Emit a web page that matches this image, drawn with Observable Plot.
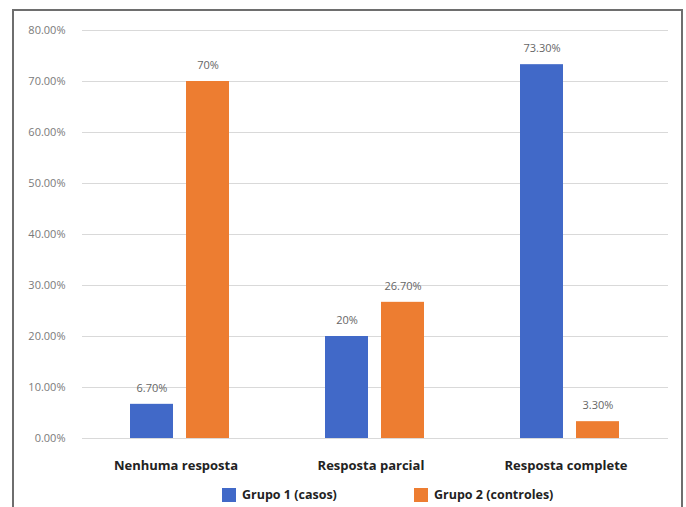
<!DOCTYPE html>
<html>
<head>
<meta charset="utf-8">
<script src="https://cdn.jsdelivr.net/npm/d3@7"></script>
<script src="https://cdn.jsdelivr.net/npm/@observablehq/plot@0.6"></script>
<style>
  html, body { margin: 0; padding: 0; background: #fff; overflow: hidden; }
  #frame {
    position: absolute; left: 12px; top: 9px; width: 667px; height: 520px;
    border: 2px solid #6e6e6e; background: #fff;
    font-family: "Open Sans", sans-serif;
  }
  #legend { position: relative; height: 30px; }
  .item { position: absolute; top: 5px; display: flex; align-items: center;
          font-size: 12.5px; font-weight: 700; color: #222; }
  .sw { width: 14px; height: 14px; margin-right: 6px; }
</style>
</head>
<body>
<div id="frame">
  <div id="chart"></div>
  <div id="legend"></div>
</div>
<script>
// Response categories and the two groups compared
const categories = ["Nenhuma resposta", "Resposta parcial", "Resposta complete"];
const groups = ["Grupo 1 (casos)", "Grupo 2 (controles)"];
const group1 = [6.7, 20, 73.3];
const group2 = [70, 26.7, 3.3];
const yTicks = [0, 10, 20, 30, 40, 50, 60, 70, 80];
const colors = ["#4169c8", "#ed7d31"];

const rows1 = categories.map((c, i) => ({category: c, group: groups[0], value: group1[i]}));
const rows2 = categories.map((c, i) => ({category: c, group: groups[1], value: group2[i]}));

const pct = v => (Number.isInteger(v) ? v : v.toFixed(2)) + "%";

// Each category band holds a pair of bars: group 1 on the left half, group 2 on the right
const barW = 43, gap = 13, shift = (barW + gap) / 2;

const chart = Plot.plot({
  width: 667,
  height: 470,
  marginLeft: 68,
  marginRight: 13,
  marginTop: 19,
  marginBottom: 43,
  style: {fontFamily: "'Open Sans', sans-serif", background: "#fff"},
  x: {domain: categories, paddingInner: 0.492, paddingOuter: 0.248, label: null},
  y: {domain: [0, 80], ticks: yTicks, label: null},
  color: {domain: groups, range: colors},
  marks: [
    Plot.gridY(yTicks, {stroke: "#d9d9d9", strokeOpacity: 1}),
    Plot.axisY({ticks: yTicks, tickSize: 0, tickPadding: 17, fontSize: 11,
      tickFormat: d => d.toFixed(2) + "%", color: "#7a7a7a", label: null}),
    Plot.axisX({tickSize: 0, tickPadding: 22, fontSize: 13, dx: -4,
      fontWeight: "bold", color: "#222", label: null}),
    Plot.barY(rows1, {x: "category", y: "value", fill: "group", insetRight: barW + gap}),
    Plot.barY(rows2, {x: "category", y: "value", fill: "group", insetLeft: barW + gap}),
    Plot.text(rows1, {x: "category", y: "value", text: d => pct(d.value),
      dx: -shift, dy: -16, fontSize: 11, fill: "#666"}),
    Plot.text(rows2, {x: "category", y: "value", text: d => pct(d.value),
      dx: shift, dy: -16, fontSize: 11, fill: "#666"})
  ]
});
document.getElementById("chart").appendChild(chart);

// Legend beneath the plot
const legend = document.getElementById("legend");
[208, 400].forEach((left, i) => {
  const item = document.createElement("div");
  item.className = "item";
  item.style.left = left + "px";
  item.innerHTML = `<span class="sw" style="background:${colors[i]}"></span>${groups[i]}`;
  legend.appendChild(item);
});
</script>
</body>
</html>
